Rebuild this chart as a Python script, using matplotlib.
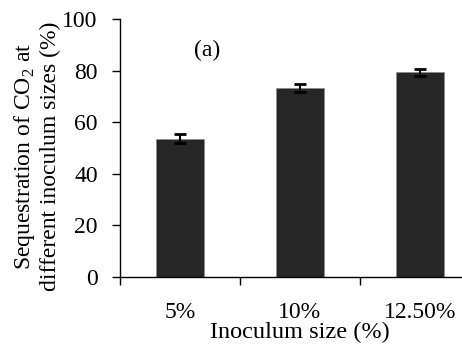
import matplotlib
matplotlib.use("Agg")
import matplotlib.pyplot as plt
import numpy as np

# data
sizes = ["5%", "10%", "12.50%"]
sequestration = [53.6, 73.4, 79.3]
errors = [1.7, 1.5, 1.2]

plt.rcParams['font.family'] = ['Liberation Serif', 'DejaVu Serif']
plt.rcParams['mathtext.fontset'] = 'custom'
plt.rcParams['mathtext.rm'] = 'Liberation Serif'

fig = plt.figure(figsize=(4.62, 3.5), dpi=100)
ax = fig.add_axes([0.2597, 0.2086, 0.779, 0.737])

x = np.arange(len(sizes))
ax.bar(x, sequestration, width=0.4, color='#262626', edgecolor='#8c8c8c', linewidth=0.6,
       yerr=errors, error_kw=dict(ecolor='black', elinewidth=1.5, capsize=4, capthick=2))

ax.set_xlim(-0.5, 2.5)
ax.set_ylim(0, 100)
ax.set_yticks([0, 20, 40, 60, 80, 100])
ax.set_xticks(x)
ax.set_xticklabels(sizes)
ax.set_xticks([-0.5, 0.5, 1.5, 2.5], minor=True)
ax.tick_params(axis='x', which='major', length=0, pad=18, labelsize=17)
ax.tick_params(axis='x', which='minor', length=6, width=1, direction='out')
ax.tick_params(axis='y', length=6, width=1, direction='out', pad=10, labelsize=17)

for s in ['top', 'right']:
    ax.spines[s].set_visible(False)
for s in ['left', 'bottom']:
    ax.spines[s].set_linewidth(1)

ax.set_xlabel("Inoculum size (%)", fontsize=17.5)
ax.xaxis.set_label_coords(0.5, -0.175)
ax.set_ylabel("Sequestration of CO$_2$ at\ndifferent inoculum sizes (%)", fontsize=17,
              linespacing=1.15)
ax.yaxis.set_label_coords(-0.165, 0.467)

ax.text(0.225, 88, "(a)", fontsize=17, ha='center', va='center')

fig.savefig("out.png", dpi=100)
